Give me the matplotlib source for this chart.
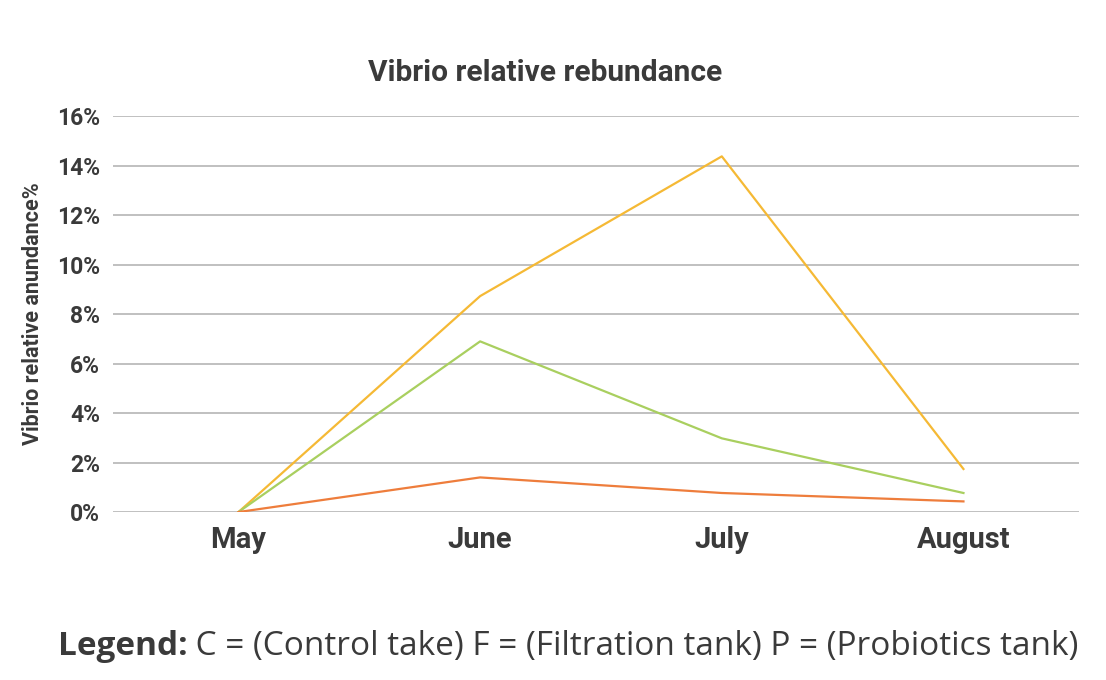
import matplotlib
matplotlib.use("Agg")
import matplotlib.pyplot as plt
from matplotlib.ticker import FuncFormatter

months = ["May", "June", "July", "August"]
control = [0.0, 8.73, 14.38, 1.74]
filtration = [0.0, 6.9, 2.98, 0.77]
probiotics = [0.0, 1.4, 0.77, 0.43]
yticks = [0, 2, 4, 6, 8, 10, 12, 14, 16]

col_yellow = "#F5B935"
col_green = "#A9CF5F"
col_orange = "#EE7D3C"
txt = "#3a3a3a"

fig = plt.figure(figsize=(11.06, 6.8), dpi=100)
ax = fig.add_axes([0.102, 0.247, 0.874, 0.582])

x = list(range(len(months)))
ax.plot(x, control, color=col_yellow, lw=1.6, zorder=3)
ax.plot(x, filtration, color=col_green, lw=1.6, zorder=3)
ax.plot(x, probiotics, color=col_orange, lw=1.6, zorder=3)

ax.set_xlim(-0.52, 3.48)
ax.set_ylim(0, 16)
ax.set_yticks(yticks)
ax.yaxis.set_major_formatter(FuncFormatter(lambda v, p: f"{int(v)}%"))
ax.set_xticks(x)
ax.set_xticklabels(months)
ax.grid(axis="y", color="#b5b5b5", lw=1.2)
ax.set_axisbelow(True)
for s in ax.spines.values():
    s.set_visible(False)
ax.tick_params(axis="both", length=0)
ax.tick_params(axis="y", pad=9)
ax.tick_params(axis="x", pad=10)
for lab in ax.get_yticklabels():
    lab.set_fontfamily("Roboto"); lab.set_fontweight("bold"); lab.set_fontsize(16.5); lab.set_color(txt)
for lab in ax.get_xticklabels():
    lab.set_fontfamily("Roboto"); lab.set_fontweight("bold"); lab.set_fontsize(21); lab.set_color(txt)

ax.set_ylabel("Vibrio relative anundance%", family="Roboto", weight="bold", fontsize=15.5, color=txt)
ax.yaxis.set_label_coords(-0.071, 0.5)

fig.text(0.493, 0.893, "Vibrio relative rebundance", family="Roboto", weight="bold",
         fontsize=21.5, color=txt, ha="center", va="center")

t1 = fig.text(0.052, 0.037, "Legend:", family=["Open Sans"], weight="bold",
              fontsize=24, color=txt, ha="left", va="baseline")
fig.canvas.draw()
ax.annotate(" C = (Control take) F = (Filtration tank) P = (Probiotics tank)", xy=(1, 0), xycoords=t1,
            family=["Open Sans"], fontsize=24, color=txt, ha="left", va="bottom",
            annotation_clip=False)

fig.savefig("out.png", dpi=100)
